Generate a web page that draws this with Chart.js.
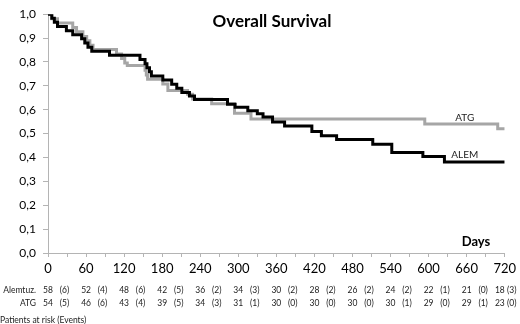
<!DOCTYPE html>
<html>
<head>
<meta charset="utf-8">
<script src="https://cdn.jsdelivr.net/npm/chart.js@4.4.1/dist/chart.umd.min.js"></script>
<style>
  html, body { margin: 0; padding: 0; background: #fff; }
  #wrap { width: 520px; height: 324px; }
</style>
</head>
<body>
<div id="wrap"><canvas id="kmChart" width="520" height="324"></canvas></div>
<script>
// Kaplan-Meier steps: [day of event, survival after event]
const alemSteps = [
  [0, 1.0], [6, 0.983], [10, 0.966], [15, 0.948], [29, 0.931], [39, 0.914],
  [53, 0.897], [58, 0.879], [63, 0.862], [69, 0.845], [97, 0.828], [145, 0.810],
  [153, 0.793], [156, 0.776], [160, 0.759], [163, 0.741], [181, 0.724], [195, 0.707],
  [203, 0.690], [211, 0.672], [223, 0.657], [231, 0.643], [283, 0.623], [295, 0.610],
  [315, 0.596], [330, 0.583], [339, 0.569], [354, 0.549], [373, 0.532], [416, 0.509],
  [431, 0.491], [455, 0.475], [512, 0.455], [542, 0.421], [591, 0.404], [625, 0.381],
  [720, 0.381]
];
const atgSteps = [
  [0, 1.0], [6, 0.981], [15, 0.963], [39, 0.944], [45, 0.926], [55, 0.907],
  [61, 0.889], [66, 0.870], [71, 0.852], [108, 0.833], [116, 0.815], [121, 0.796],
  [125, 0.785], [153, 0.765], [155, 0.745], [157, 0.728], [181, 0.708], [189, 0.680],
  [220, 0.665], [228, 0.645], [258, 0.625], [294, 0.585], [320, 0.561], [594, 0.540],
  [709, 0.520], [720, 0.520]
];

// patients at risk table
const riskDays = [0, 60, 120, 180, 240, 300, 360, 420, 480, 540, 600, 660, 720];
const alemAtRisk = [58, 52, 48, 42, 36, 34, 30, 28, 26, 24, 22, 21, 18];
const alemEvents = [6, 4, 6, 5, 2, 3, 2, 2, 2, 2, 1, 0, 3];
const atgAtRisk = [54, 46, 43, 39, 34, 31, 30, 30, 30, 30, 29, 29, 23];
const atgEvents = [5, 6, 4, 5, 3, 1, 0, 0, 0, 1, 0, 1, 0];

const FONT = "Lato, 'Open Sans', sans-serif";
const AXIS_GREY = '#b4b4b4';

const toPoints = steps => steps.map(s => ({ x: s[0], y: s[1] }));

// extra texts: title, curve labels, "Days", risk table
const annotations = {
  id: 'annotations',
  afterDraw(chart) {
    const ctx = chart.ctx;
    const xs = chart.scales.x;
    const ys = chart.scales.y;
    ctx.save();
    ctx.fillStyle = '#000';
    ctx.textBaseline = 'alphabetic';

    ctx.font = "bold 17px " + FONT;
    ctx.textAlign = 'center';
    ctx.fillText('Overall Survival', 272, 27);

    ctx.font = "bold 13px " + FONT;
    ctx.fillText('Days', 476, 246);

    ctx.font = "10px " + FONT;
    ctx.fillStyle = '#222';
    ctx.fillText('ATG', xs.getPixelForValue(657), ys.getPixelForValue(0.553));
    ctx.fillText('ALEM', xs.getPixelForValue(657), ys.getPixelForValue(0.397));

    // risk table
    ctx.font = "8.5px " + FONT;
    ctx.textBaseline = 'middle';
    const rowY = [290, 303];
    const rows = [[alemAtRisk, alemEvents], [atgAtRisk, atgEvents]];
    ctx.textAlign = 'right';
    ctx.fillText('Alemtuz.', 36, rowY[0]);
    ctx.fillText('ATG', 36, rowY[1]);
    ctx.textAlign = 'center';
    rows.forEach((r, ri) => {
      riskDays.forEach((d, i) => {
        const px = xs.getPixelForValue(d);
        if (i === riskDays.length - 1) {
          ctx.fillText(r[0][i] + ' (' + r[1][i] + ')', px + 1, rowY[ri]);
        } else {
          ctx.fillText(String(r[0][i]), px, rowY[ri]);
          ctx.fillText('(' + r[1][i] + ')', xs.getPixelForValue(d + 26), rowY[ri]);
        }
      });
    });
    ctx.textAlign = 'left';
    ctx.fillText('Patients at risk (Events)', 0, 320);
    ctx.restore();
  }
};

new Chart(document.getElementById('kmChart').getContext('2d'), {
  type: 'line',
  data: {
    datasets: [
      {
        label: 'ALEM',
        data: toPoints(alemSteps),
        borderColor: '#000000',
        borderWidth: 3,
        stepped: true,
        pointRadius: 0,
        fill: false
      },
      {
        label: 'ATG',
        data: toPoints(atgSteps),
        borderColor: '#a6a6a6',
        borderWidth: 3,
        stepped: true,
        pointRadius: 0,
        fill: false
      }
    ]
  },
  options: {
    responsive: false,
    animation: false,
    layout: { padding: { top: 5, right: 15, bottom: 47, left: 0 } },
    plugins: {
      legend: { display: false },
      tooltip: { enabled: false }
    },
    scales: {
      x: {
        type: 'linear',
        min: 0,
        max: 720,
        afterFit: s => { s.height = 24; },
        border: { color: AXIS_GREY, width: 1 },
        grid: { drawOnChartArea: false, color: AXIS_GREY, tickLength: 4 },
        ticks: {
          stepSize: 30,
          autoSkip: false,
          maxRotation: 0,
          padding: 4,
          color: '#000',
          font: { family: FONT, size: 13 },
          callback: v => (v % 60 === 0 ? String(v) : '')
        }
      },
      y: {
        min: 0,
        max: 1,
        afterFit: s => { s.width = 48; },
        border: { color: AXIS_GREY, width: 1 },
        grid: { drawOnChartArea: false, color: AXIS_GREY, tickLength: 5 },
        ticks: {
          stepSize: 0.1,
          padding: 7,
          color: '#000',
          font: { family: FONT, size: 12 },
          callback: v => v.toFixed(1).replace('.', ',')
        }
      }
    }
  },
  plugins: [annotations]
});
</script>
</body>
</html>
